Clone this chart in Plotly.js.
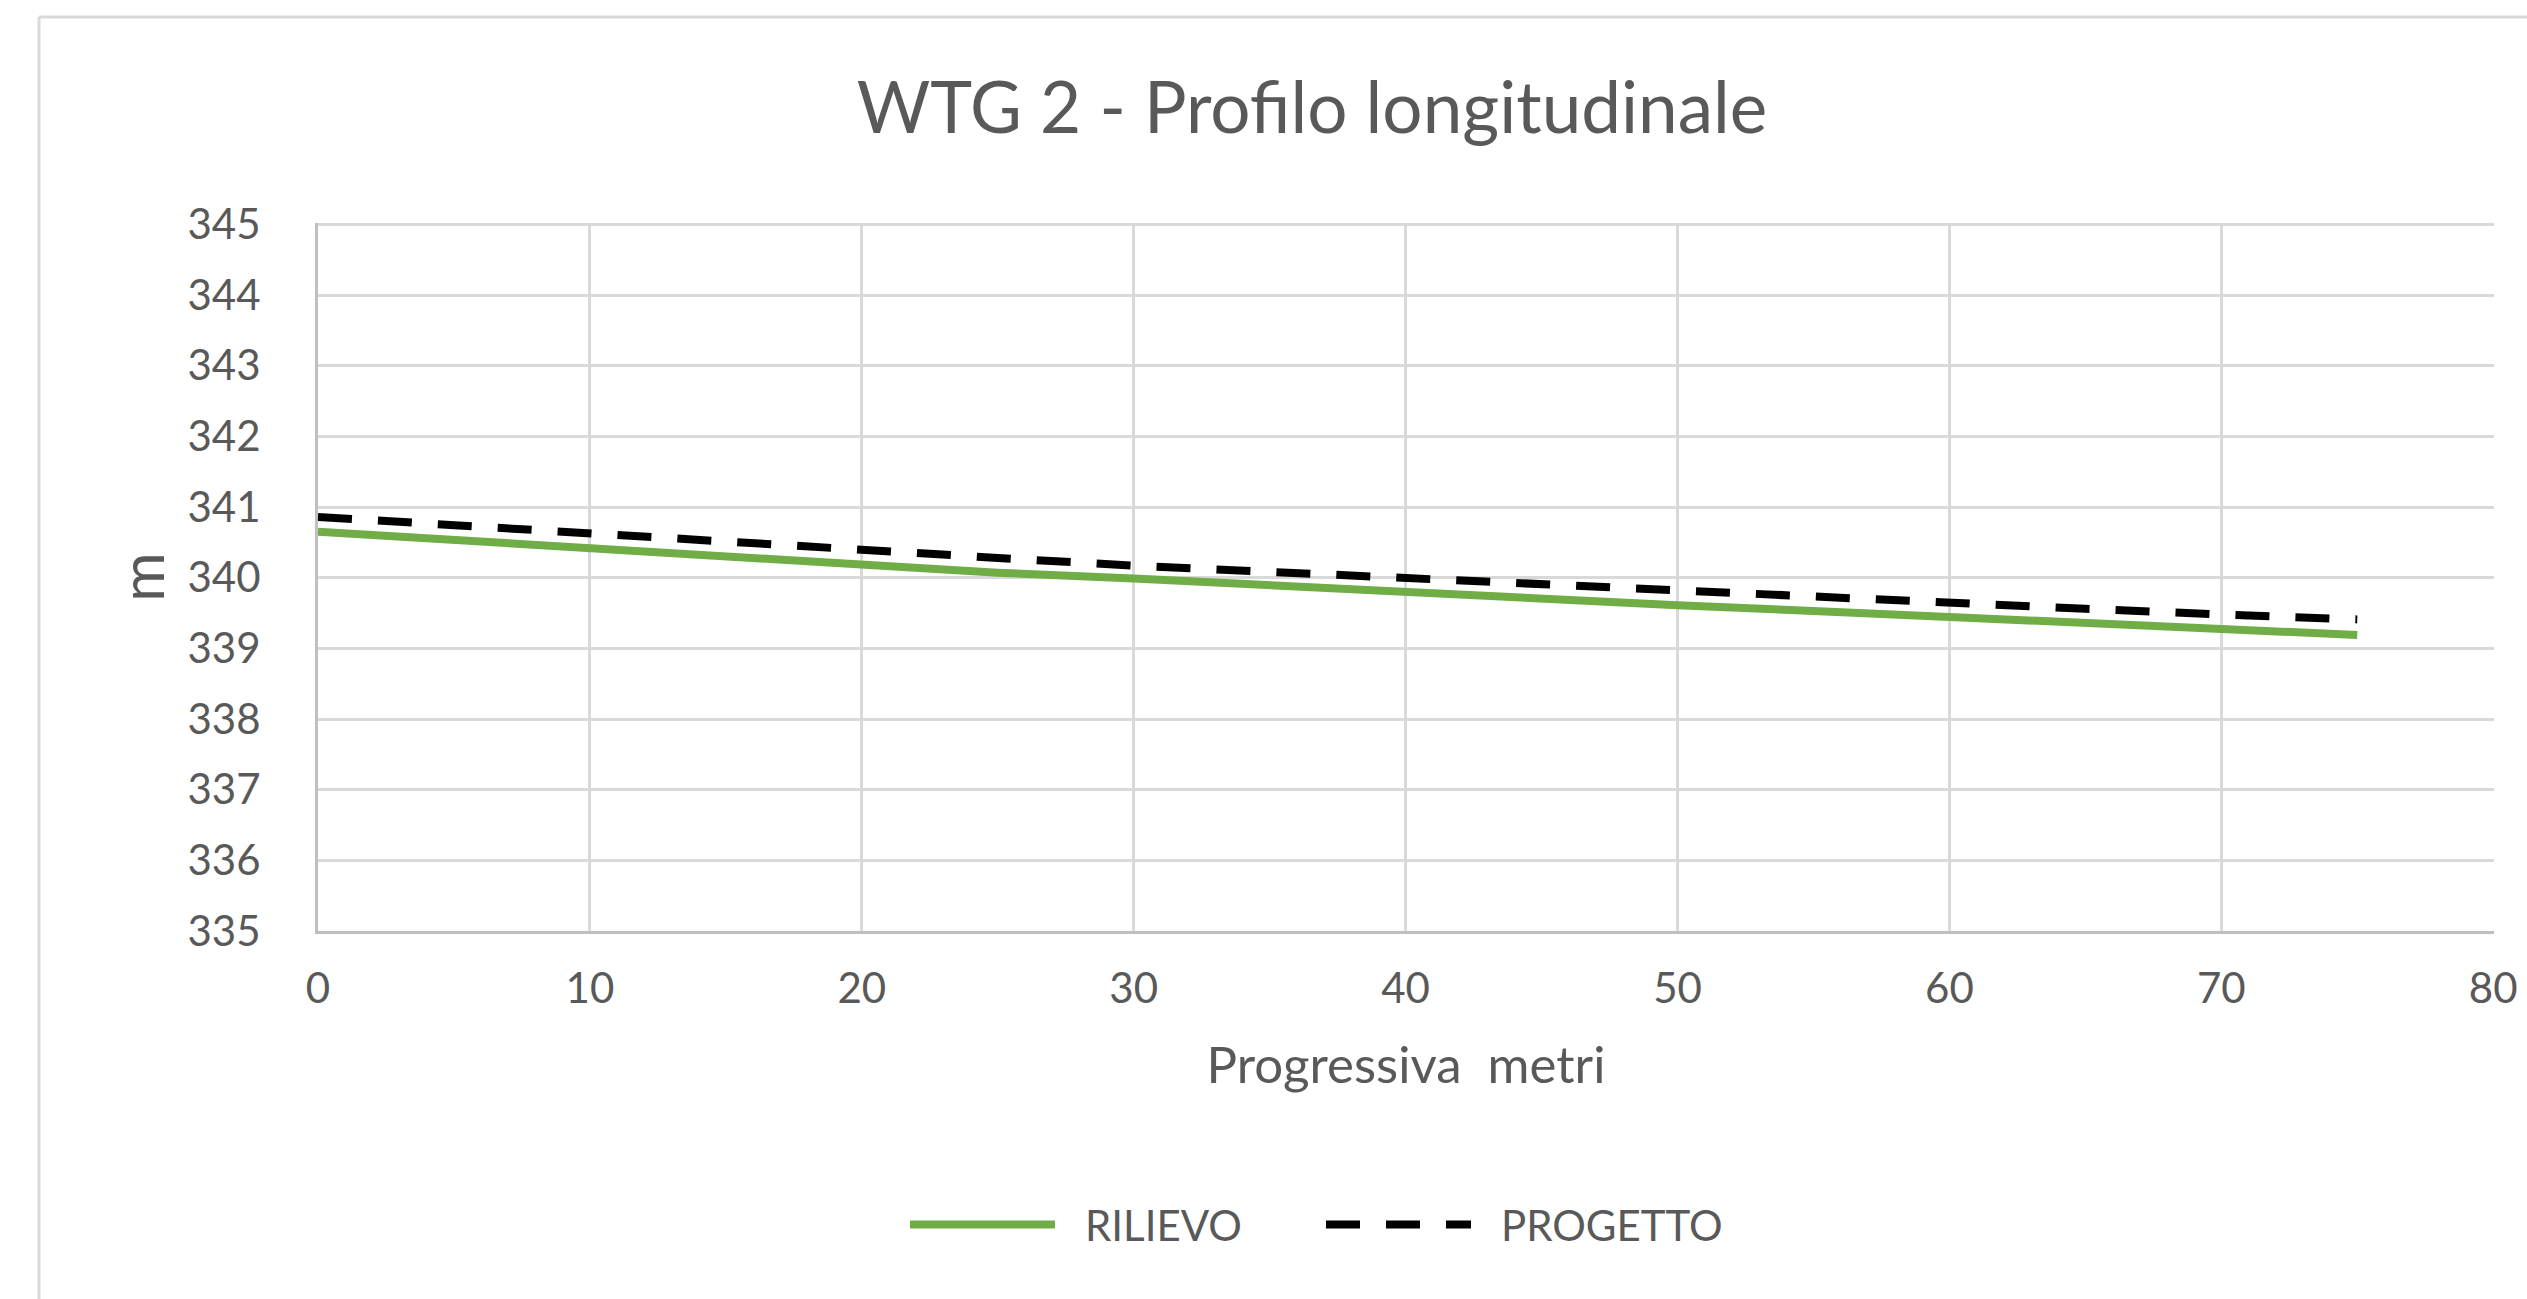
<!DOCTYPE html>
<html>
<head>
<meta charset="utf-8">
<script src="https://cdn.plot.ly/plotly-3.0.1.min.js"></script>
<style>
  html, body { margin: 0; padding: 0; background: #ffffff; }
  #chart { width: 2527px; height: 1299px; }
</style>
</head>
<body>
<div id="chart"></div>
<script>
// Progressiva (m)
const progressiva = [0, 5, 10, 15, 20, 25, 30, 35, 40, 45, 50, 55, 60, 65, 70, 75];
// Quote rilievo (m)
const rilievo = [340.65, 340.53, 340.41, 340.30, 340.19, 340.07, 339.99, 339.89, 339.80, 339.70, 339.61, 339.53, 339.45, 339.36, 339.28, 339.19];
// Quote progetto (m)
const progetto = [340.86, 340.74, 340.63, 340.51, 340.39, 340.28, 340.17, 340.08, 339.99, 339.90, 339.82, 339.73, 339.65, 339.56, 339.48, 339.41];

const seriesNames = ['RILIEVO', 'PROGETTO'];
const xTicks = [0, 10, 20, 30, 40, 50, 60, 70, 80];
const yTicks = [335, 336, 337, 338, 339, 340, 341, 342, 343, 344, 345];

const FONT = 'Lato, "Open Sans", "DejaVu Sans", sans-serif';
const TXT = '#595959';

const traces = [
  {
    x: progressiva, y: rilievo, name: seriesNames[0], type: 'scatter', mode: 'lines',
    line: { color: '#70AD47', width: 8 }
  },
  {
    x: progressiva, y: progetto, name: seriesNames[1], type: 'scatter', mode: 'lines',
    line: { color: '#000000', width: 8, dash: '34px,26px' }
  }
];

const layout = {
  width: 2527, height: 1299,
  paper_bgcolor: '#ffffff', plot_bgcolor: '#ffffff',
  margin: { l: 318, r: 33, t: 223, b: 368, pad: 0 },
  font: { family: FONT, color: TXT, size: 42 },
  title: {
    text: 'WTG 2 - Profilo longitudinale',
    font: { family: FONT, size: 71, color: TXT },
    xref: 'container', yref: 'container', x: 0.5192, xanchor: 'center',
    y: 0.917, yanchor: 'middle'
  },
  xaxis: {
    range: [0, 80.03], tickvals: xTicks, ticktext: xTicks.map(String),
    showgrid: true, gridcolor: '#d9d9d9', gridwidth: 3,
    showline: true, linecolor: '#bfbfbf', linewidth: 3,
    zeroline: false, ticks: '', ticklabelstandoff: 19,
    tickfont: { family: FONT, size: 42, color: TXT },
    automargin: false,
    title: { text: 'Progressiva  metri', font: { family: FONT, size: 51, color: TXT }, standoff: 36 }
  },
  yaxis: {
    range: [335, 345.02], tickvals: yTicks, ticktext: yTicks.map(String),
    showgrid: true, gridcolor: '#d9d9d9', gridwidth: 3,
    showline: true, linecolor: '#bfbfbf', linewidth: 3,
    zeroline: false, ticks: '', ticklabelstandoff: 46,
    tickfont: { family: FONT, size: 42, color: TXT },
    automargin: false,
    title: { text: 'm', font: { family: FONT, size: 60, color: TXT }, standoff: 4 }
  },
  showlegend: true,
  legend: {
    orientation: 'h', x: (905 - 318) / 2176, xanchor: 'left', xref: 'paper',
    y: -0.415, yanchor: 'middle',
    font: { family: FONT, size: 42, color: TXT },
    itemwidth: 170, entrywidth: 231, entrywidthmode: 'pixels',
    bgcolor: 'rgba(0,0,0,0)', traceorder: 'normal'
  },
  shapes: [
    { type: 'line', xref: 'paper', yref: 'paper', x0: (39 - 318) / 2176, x1: 1.2, y0: (931 - 17) / 708, y1: (931 - 17) / 708,
      line: { color: '#d9d9d9', width: 3 } },
    { type: 'line', xref: 'paper', yref: 'paper', x0: (39 - 318) / 2176, x1: (39 - 318) / 2176, y0: (931 - 17) / 708, y1: -1,
      line: { color: '#d9d9d9', width: 3 } }
  ]
};

function fixLegendLines() {
  document.querySelectorAll('.legendlines path').forEach(function (p) {
    const d = p.getAttribute('d') || '';
    const m = d.match(/^M([\d.\-]+),([\d.\-]+)h([\d.\-]+)/);
    if (m) p.setAttribute('d', 'M' + m[1] + ',' + m[2] + 'h145');
  });
}

Plotly.newPlot('chart', traces, layout, { displayModeBar: false, responsive: false }).then(fixLegendLines);
</script>
</body>
</html>
